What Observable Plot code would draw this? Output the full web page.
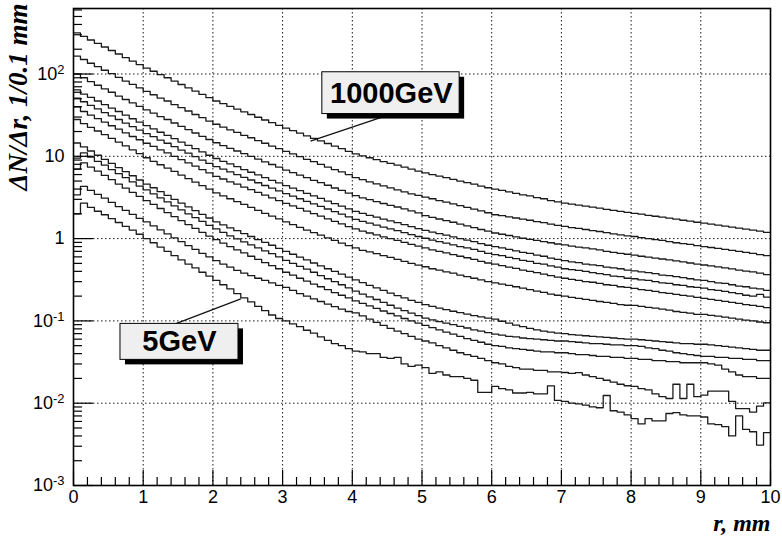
<!DOCTYPE html>
<html>
<head>
<meta charset="utf-8">
<script src="https://cdn.jsdelivr.net/npm/d3@7"></script>
<script src="https://cdn.jsdelivr.net/npm/@observablehq/plot@0.6"></script>
<style>
  html, body { margin: 0; padding: 0; background: #fff; }
  #chart { width: 782px; height: 541px; overflow: hidden; }
</style>
</head>
<body>
<div id="chart"></div>
<script>
// ---- data: radial shower profiles, dN/dr per 0.1 mm bin (100 bins, r = 0..10 mm) ----
const binWidth = 0.1;

// top curve (1000 GeV)
const h01 = [316,286,259,235,213,193,175,158,143,130,
118,108,98,90,82,74.5,68,62,56.5,51.5,
47,43.6,40.4,37.5,34.7,32.2,29.8,27.6,25.6,23.8,
22,20.5,19.1,17.7,16.5,15.4,14.3,13.3,12.4,11.5,
10.7,10.1,9.6,9.1,8.6,8.2,7.8,7.4,7.0,6.6,
6.3,6.0,5.75,5.5,5.25,5.0,4.8,4.6,4.35,4.15,
4.0,3.85,3.7,3.55,3.4,3.3,3.15,3.05,2.9,2.8,
2.7,2.62,2.55,2.48,2.41,2.34,2.27,2.2,2.14,2.08,
2.03,1.98,1.92,1.87,1.82,1.77,1.72,1.67,1.63,1.58,
1.54,1.5,1.46,1.42,1.38,1.34,1.3,1.27,1.23,1.19];

const h02 = [165,150,135,123,111,101,91,82,75,68,
61.5,56,51,47,42.5,39,35.5,32.2,29.5,26.8,
24.5,22.6,21,19.5,18,16.8,15.5,14.4,13.3,12.4,
11.5,10.7,9.9,9.2,8.6,8.0,7.4,6.9,6.45,6.0,
5.5,5.2,4.9,4.62,4.37,4.13,3.9,3.7,3.5,3.35,
3.2,3.05,2.9,2.77,2.64,2.52,2.4,2.28,2.17,2.06,
1.95,1.9,1.84,1.78,1.72,1.67,1.61,1.56,1.5,1.45,
1.41,1.36,1.33,1.29,1.25,1.22,1.18,1.14,1.11,1.08,
1.06,1.03,1.0,0.97,0.95,0.92,0.89,0.87,0.85,0.82,
0.80,0.78,0.76,0.74,0.72,0.70,0.68,0.66,0.64,0.62];

const h03 = [100,90,81,73,66,60,54,49,44.5,40.5,
36.6,33.5,30.4,28,25.4,23.1,21.1,19.2,17.5,16,
14.6,13.5,12.5,11.6,10.8,10,9.25,8.55,7.95,7.4,
6.8,6.35,5.9,5.5,5.1,4.78,4.45,4.12,3.85,3.57,
3.32,3.13,2.98,2.82,2.67,2.54,2.42,2.3,2.17,2.05,
1.9,1.81,1.73,1.65,1.58,1.5,1.43,1.36,1.29,1.23,
1.17,1.13,1.09,1.05,1.01,0.98,0.95,0.92,0.89,0.86,
0.84,0.81,0.79,0.77,0.75,0.73,0.7,0.68,0.66,0.645,
0.63,0.61,0.595,0.58,0.565,0.55,0.535,0.52,0.505,0.49,
0.478,0.465,0.453,0.44,0.428,0.415,0.403,0.394,0.38,0.365];

const h04 = [64,57,52,47,42.5,38.6,35,31.6,28.6,26,
23.6,21.6,19.6,18,16.4,14.9,13.6,12.4,11.3,10.3,
9.4,8.7,8.1,7.5,6.9,6.4,5.95,5.5,5.1,4.76,
4.4,4.1,3.82,3.54,3.3,3.08,2.86,2.66,2.48,2.3,
2.14,2.02,1.92,1.82,1.72,1.64,1.56,1.48,1.4,1.32,
1.26,1.2,1.15,1.1,1.05,1.0,0.96,0.92,0.87,0.83,
0.8,0.77,0.74,0.71,0.68,0.66,0.63,0.61,0.58,0.56,
0.54,0.52,0.51,0.49,0.48,0.47,0.45,0.44,0.43,0.415,
0.405,0.395,0.385,0.375,0.36,0.355,0.345,0.335,0.325,0.315,
0.31,0.30,0.29,0.285,0.275,0.265,0.26,0.25,0.245,0.235];

const h05 = [51,46,41.5,37.6,34,31,28,25.3,22.9,20.8,
18.9,17.3,15.7,14.4,13.1,11.9,10.9,9.9,9.0,8.2,
7.5,7.0,6.45,6.0,5.55,5.15,4.77,4.42,4.1,3.8,
3.52,3.28,3.05,2.83,2.64,2.46,2.29,2.13,1.98,1.84,
1.71,1.62,1.54,1.46,1.38,1.31,1.25,1.18,1.12,1.06,
1.01,0.96,0.92,0.88,0.84,0.8,0.77,0.74,0.70,0.66,
0.64,0.62,0.59,0.57,0.545,0.53,0.50,0.49,0.465,0.45,
0.43,0.42,0.41,0.40,0.385,0.375,0.365,0.35,0.345,0.33,
0.325,0.315,0.31,0.30,0.29,0.285,0.275,0.27,0.26,0.255,
0.25,0.24,0.235,0.228,0.22,0.215,0.205,0.2,0.21,0.195];

const h06 = [40,35,31.6,28.7,26,23.5,21.4,19.3,17.4,15.9,
14.4,13.2,12,11,10,9.1,8.3,7.6,6.9,6.3,
5.7,5.3,4.9,4.58,4.23,3.93,3.64,3.37,3.12,2.9,
2.68,2.5,2.33,2.16,2.01,1.88,1.74,1.62,1.51,1.4,
1.31,1.23,1.17,1.11,1.05,1.0,0.95,0.9,0.85,0.81,
0.77,0.73,0.70,0.67,0.64,0.61,0.585,0.56,0.53,0.505,
0.49,0.47,0.45,0.435,0.415,0.40,0.385,0.37,0.355,0.34,
0.33,0.32,0.31,0.30,0.295,0.285,0.275,0.27,0.26,0.255,
0.248,0.24,0.235,0.228,0.22,0.216,0.21,0.204,0.2,0.193,
0.188,0.183,0.178,0.173,0.168,0.163,0.158,0.154,0.15,0.145];

const h07 = [28,25,22.5,20.3,18.3,16.5,14.9,13.4,12.0,10.8,
9.6,8.7,7.9,7.2,6.55,5.9,5.35,4.85,4.4,4.0,
3.6,3.3,3.05,2.82,2.6,2.4,2.2,2.03,1.88,1.74,
1.6,1.48,1.37,1.27,1.18,1.1,1.02,0.95,0.88,0.82,
0.77,0.72,0.69,0.655,0.62,0.59,0.56,0.53,0.5,0.475,
0.455,0.43,0.415,0.395,0.38,0.36,0.345,0.33,0.315,0.3,
0.29,0.28,0.27,0.26,0.25,0.24,0.23,0.222,0.212,0.205,
0.2,0.193,0.188,0.183,0.178,0.172,0.168,0.163,0.158,0.155,
0.154,0.15,0.146,0.143,0.139,0.135,0.13,0.127,0.124,0.12,
0.12,0.117,0.114,0.111,0.108,0.105,0.102,0.1,0.097,0.095];

const h08 = [14.5,13.0,11.6,10.3,9.2,8.2,7.3,6.5,5.8,5.15,
4.6,4.15,3.72,3.35,3.0,2.7,2.43,2.19,1.97,1.78,
1.6,1.47,1.35,1.25,1.15,1.06,0.97,0.9,0.83,0.76,
0.7,0.645,0.595,0.55,0.505,0.465,0.43,0.4,0.37,0.34,
0.315,0.292,0.27,0.252,0.235,0.218,0.203,0.19,0.178,0.168,
0.158,0.15,0.143,0.137,0.131,0.126,0.121,0.116,0.112,0.108,
0.105,0.099,0.094,0.089,0.085,0.081,0.078,0.075,0.073,0.071,
0.07,0.068,0.067,0.066,0.065,0.064,0.063,0.062,0.061,0.06,
0.06,0.059,0.058,0.057,0.056,0.055,0.054,0.053,0.053,0.052,
0.052,0.051,0.05,0.049,0.048,0.047,0.046,0.045,0.044,0.044];

const h09 = [9.5,11,9.8,8.7,7.8,6.9,6.15,5.5,4.9,4.35,
3.9,3.5,3.12,2.8,2.5,2.24,2.0,1.8,1.62,1.45,
1.31,1.19,1.08,0.99,0.91,0.84,0.77,0.71,0.655,0.6,
0.545,0.5,0.46,0.425,0.39,0.355,0.325,0.3,0.275,0.252,
0.23,0.212,0.196,0.182,0.168,0.155,0.143,0.133,0.124,0.116,
0.108,0.103,0.098,0.094,0.09,0.086,0.082,0.078,0.075,0.072,
0.069,0.067,0.065,0.064,0.062,0.061,0.06,0.059,0.058,0.057,
0.057,0.056,0.055,0.054,0.053,0.053,0.052,0.051,0.051,0.05,
0.05,0.049,0.047,0.046,0.044,0.043,0.041,0.04,0.039,0.038,
0.037,0.037,0.036,0.036,0.035,0.035,0.034,0.034,0.033,0.033];

const h10 = [7.0,8.3,7.4,6.6,5.85,5.2,4.6,4.1,3.65,3.25,
2.9,2.6,2.32,2.07,1.85,1.65,1.48,1.33,1.19,1.07,
0.97,0.88,0.8,0.73,0.67,0.61,0.56,0.51,0.47,0.43,
0.39,0.36,0.33,0.305,0.28,0.26,0.24,0.22,0.205,0.19,
0.175,0.163,0.152,0.142,0.132,0.123,0.115,0.107,0.1,0.094,
0.088,0.083,0.078,0.073,0.069,0.065,0.061,0.058,0.055,0.052,
0.05,0.049,0.047,0.046,0.045,0.044,0.043,0.042,0.042,0.041,
0.041,0.04,0.039,0.039,0.038,0.037,0.037,0.036,0.036,0.035,
0.035,0.034,0.034,0.033,0.033,0.032,0.032,0.031,0.031,0.031,
0.031,0.03,0.029,0.026,0.024,0.022,0.021,0.021,0.02,0.02];

const h11 = [3.4,4.3,3.85,3.45,3.1,2.75,2.45,2.2,1.97,1.76,
1.6,1.43,1.28,1.14,1.02,0.92,0.82,0.74,0.66,0.6,
0.54,0.49,0.45,0.41,0.38,0.355,0.33,0.31,0.29,0.27,
0.255,0.235,0.215,0.2,0.185,0.172,0.16,0.149,0.139,0.13,
0.125,0.115,0.105,0.096,0.088,0.081,0.075,0.07,0.065,0.06,
0.057,0.054,0.05,0.047,0.044,0.041,0.039,0.037,0.035,0.033,
0.031,0.03,0.028,0.027,0.026,0.026,0.025,0.025,0.024,0.024,
0.0236,0.023,0.0235,0.022,0.021,0.02,0.019,0.018,0.017,0.0163,
0.016,0.015,0.0145,0.013,0.012,0.0114,0.017,0.0114,0.017,0.012,
0.0125,0.014,0.014,0.014,0.0105,0.0086,0.0086,0.0078,0.0092,0.0101];

// bottom curve (5 GeV)
const h12 = [2.0,2.7,2.4,2.15,1.95,1.75,1.57,1.41,1.27,1.13,
1.0,0.89,0.79,0.7,0.62,0.55,0.49,0.44,0.39,0.35,
0.31,0.275,0.245,0.215,0.19,0.17,0.15,0.133,0.118,0.107,
0.1,0.092,0.085,0.077,0.071,0.064,0.058,0.053,0.05,0.046,
0.043,0.042,0.04,0.04,0.036,0.035,0.036,0.03,0.028,0.029,
0.027,0.023,0.024,0.022,0.021,0.021,0.02,0.019,0.0135,0.0135,
0.016,0.015,0.0145,0.0133,0.0133,0.0135,0.013,0.013,0.0162,0.0108,
0.0105,0.01,0.0098,0.0095,0.009,0.0088,0.0124,0.0081,0.0078,0.0072,
0.0065,0.0056,0.0065,0.0061,0.0061,0.0075,0.0077,0.0072,0.007,0.007,
0.0068,0.0056,0.0055,0.0052,0.004,0.007,0.0048,0.0045,0.0031,0.0044];

const histograms = [h01,h02,h03,h04,h05,h06,h07,h08,h09,h10,h11,h12];

// axes
const xMajorTicks = [0,1,2,3,4,5,6,7,8,9,10];
const xMinorTicks = [0.2,0.4,0.6,0.8,1.2,1.4,1.6,1.8,2.2,2.4,2.6,2.8,3.2,3.4,3.6,3.8,4.2,4.4,4.6,4.8,
  5.2,5.4,5.6,5.8,6.2,6.4,6.6,6.8,7.2,7.4,7.6,7.8,8.2,8.4,8.6,8.8,9.2,9.4,9.6,9.8];
const xGridTicks = [1,2,3,4,5,6,7,8,9];
const yMajorTicks = [1e-3,1e-2,1e-1,1,10,100];
const yTickLabels = ["10^-3","10^-2","10^-1","1","10","10^2"];
const yGridTicks = [1e-2,1e-1,1,10,100];
const yMinorTicks = [];
[1e-3,1e-2,1e-1,1,10,100].forEach(d => [2,3,4,5,6,7,8,9].forEach(m => { if (d*m < 625) yMinorTicks.push(d*m); }));
const xTitle = "r, mm";
const yTitle = "\u0394N/\u0394r, 1/0.1 mm";

// annotation labels (data units)
const labels = [
  {text: "1000GeV", x1: 3.57, x2: 5.54, y1: 32.6, y2: 105, tx: 4.56, ty: 58, px1: 4.48, py1: 31, px2: 3.40, py2: 15.3},
  {text: "5GeV", x1: 0.674, x2: 2.367, y1: 0.0336, y2: 0.092, tx: 1.52, ty: 0.0555, px1: 1.46, py1: 0.092, px2: 2.40, py2: 0.185}
];

// ---- build rows for step lines ----
const rows = [];
histograms.forEach((vals, k) => {
  vals.forEach((v, i) => rows.push({series: k, r: i * binWidth, v}));
  rows.push({series: k, r: vals.length * binWidth, v: vals[vals.length - 1]});
});

const yLabelOf = d => {
  const i = yMajorTicks.findIndex(t => Math.abs(Math.log10(t) - Math.log10(d)) < 1e-6);
  return i >= 0 ? yTickLabels[i] : "";
};

const sans = '"Liberation Sans", Arial, Helvetica, sans-serif';
const serif = '"Liberation Serif", "Times New Roman", serif';
const dotted = {stroke: "#000", strokeOpacity: 0.9, strokeWidth: 1, strokeDasharray: "1.5,2.5"};

const chart = Plot.plot({
  width: 782,
  height: 541,
  marginLeft: 73,
  marginRight: 12,
  marginTop: 8,
  marginBottom: 56,
  style: {fontFamily: sans, fontSize: "18px", background: "#fff", color: "#000"},
  x: {domain: [0, 10], label: null},
  y: {type: "log", domain: [1e-3, 625], label: null},
  marks: [
    Plot.gridX(xGridTicks, dotted),
    Plot.gridY(yGridTicks, dotted),
    Plot.line(rows, {x: "r", y: "v", z: "series", curve: "step-after", stroke: "#1a1a1a", strokeWidth: 1.3}),
    // ticks drawn inward (ROOT style)
    Plot.axisX(xMajorTicks, {tickSize: -15, tickFormat: () => "", label: null, strokeWidth: 1.2}),
    Plot.axisX(xMinorTicks, {tickSize: -8, tickFormat: () => "", label: null, strokeWidth: 1.2}),
    Plot.axisX(xMajorTicks, {tickSize: 0, tickPadding: 5, tickFormat: d => String(d), label: null, fontSize: 18}),
    Plot.axisY(yMajorTicks, {tickSize: -20, tickFormat: () => "", label: null, strokeWidth: 1.2}),
    Plot.axisY(yMinorTicks, {tickSize: -9, tickFormat: () => "", label: null, strokeWidth: 1.2}),
    Plot.axisY(yMajorTicks, {tickSize: 0, tickPadding: 9, tickFormat: yLabelOf, label: null, fontSize: 18}),
    Plot.frame({stroke: "#000", strokeWidth: 1.6}),
    // annotations
    Plot.link(labels, {x1: "px1", y1: "py1", x2: "px2", y2: "py2", stroke: "#111", strokeWidth: 1.2}),
    Plot.rect(labels, {x1: "x1", x2: "x2", y1: "y1", y2: "y2", fill: "#000", dx: 5, dy: 5}),
    Plot.rect(labels, {x1: "x1", x2: "x2", y1: "y1", y2: "y2", fill: "#efefef", stroke: "#000", strokeWidth: 1}),
    Plot.text(labels, {x: "tx", y: "ty", text: "text", fontSize: 29, fontWeight: "bold", fontFamily: sans, fill: "#000"}),
    // axis titles
    Plot.text([yTitle], {frameAnchor: "top-left", rotate: -90, textAnchor: "end", lineAnchor: "middle", dx: -55, dy: -5,
      fontSize: 27, fontWeight: "bold", fontStyle: "italic", fontFamily: serif, fill: "#000"}),
    Plot.text([xTitle], {frameAnchor: "bottom-right", textAnchor: "end", lineAnchor: "bottom", dx: 0, dy: 45,
      fontSize: 24, fontWeight: "bold", fontStyle: "italic", fontFamily: serif, fill: "#000"})
  ]
});

// superscript exponents on log tick labels
chart.querySelectorAll('[aria-label="y-axis tick label"] text').forEach(t => {
  const s = t.textContent;
  const k = s.indexOf("^");
  if (k >= 0) {
    t.textContent = s.slice(0, k);
    const sup = document.createElementNS("http://www.w3.org/2000/svg", "tspan");
    sup.setAttribute("dy", "-0.45em");
    sup.setAttribute("font-size", "0.72em");
    sup.textContent = s.slice(k + 1);
    t.appendChild(sup);
  }
});

document.getElementById("chart").appendChild(chart);
</script>
</body>
</html>
